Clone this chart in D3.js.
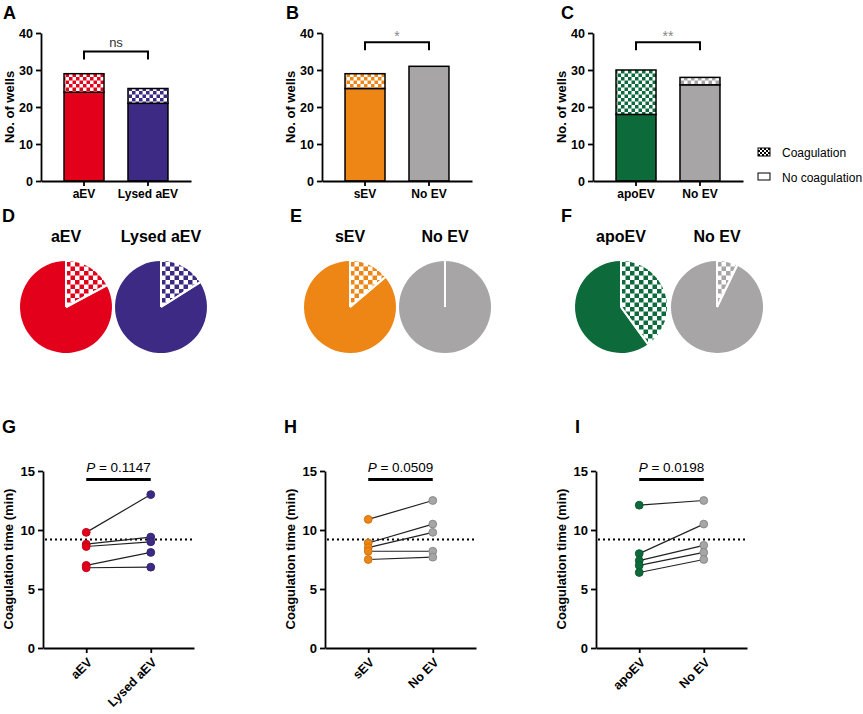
<!DOCTYPE html>
<html><head><meta charset="utf-8">
<script src="https://cdn.jsdelivr.net/npm/d3@7"></script>
<style>body{margin:0;background:#fff} text{font-family:"Liberation Sans",Arial,Helvetica,sans-serif}</style>
</head><body><svg id="c" width="863" height="714"></svg>
<script>
// ---- data ----
const catsA=["aEV","Lysed aEV"], totalA=[29,25], solidA=[24,21];
const catsB=["sEV","No EV"], totalB=[29,31], solidB=[25,31];
const catsC=["apoEV","No EV"], totalC=[30,28], solidC=[18,26];
const sigLabels=["ns","*","**"];
const wellTicks=[0,10,20,30,40];
const colorsA=["#E2001A","#3D2A84"], colorsB=["#EE8616","#A7A5A6"], colorsC=["#0D6B3B","#A7A5A6"];
const timeTicks=[0,5,10,15];
const beforeG=[9.8,8.8,8.6,7.0,6.8], afterG=[13.0,9.4,9.0,8.1,6.85];
const beforeH=[10.9,8.9,8.5,8.2,7.5], afterH=[12.5,10.5,9.8,8.2,7.7];
const beforeI=[12.1,8.0,7.4,7.0,6.4], afterI=[12.5,10.5,8.7,8.1,7.5];
const pValues=["0.1147","0.0509","0.0198"];
const threshold=9.2;
const legendLabels=["Coagulation","No coagulation"];

const svg=d3.select("#c");
const defs=svg.append("defs");
function pattern(color,size){
  const id="p"+color.replace("#","")+size;
  if(!document.getElementById(id)){
    const p=defs.append("pattern").attr("id",id).attr("patternUnits","userSpaceOnUse")
      .attr("width",size).attr("height",size);
    p.append("rect").attr("width",size).attr("height",size).attr("fill","#fff");
    p.append("rect").attr("width",size/2).attr("height",size/2).attr("fill",color);
    p.append("rect").attr("x",size/2).attr("y",size/2).attr("width",size/2).attr("height",size/2).attr("fill",color);
  }
  return "url(#"+id+")";
}
function styleAxis(g,fs){
  g.select(".domain").attr("stroke","#000").attr("stroke-width",1.8);
  g.selectAll(".tick line").attr("stroke","#000").attr("stroke-width",1.8);
  g.selectAll(".tick text").attr("fill","#000").style("font-weight","bold").style("font-size",fs+"px");
}
function letter(t,x,y){svg.append("text").attr("x",x).attr("y",y).text(t).style("font-weight","bold").style("font-size","18px");}

// ---- bar panels ----
function barPanel(ax,cats,total,solid,colors,sig,sigVal){
  const g=svg.append("g").attr("transform",`translate(${ax},0)`);
  const y=d3.scaleLinear().domain([0,40]).range([181,33]);
  const x=d3.scaleBand().domain(cats).range([0,150]).paddingInner(0.375).paddingOuter(0.36);
  cats.forEach((c,i)=>{
    g.append("rect").attr("x",x(c)).attr("width",x.bandwidth()).attr("y",y(solid[i])).attr("height",y(0)-y(solid[i]))
      .attr("fill",colors[i]).attr("stroke","#000").attr("stroke-width",1.5);
    if(total[i]>solid[i]){
      g.append("rect").attr("x",x(c)).attr("width",x.bandwidth()).attr("y",y(total[i])).attr("height",y(solid[i])-y(total[i]))
        .attr("fill",pattern(colors[i],7)).attr("stroke","#000").attr("stroke-width",1.5);
    }
  });
  const ya=g.append("g").call(d3.axisLeft(y).tickValues(wellTicks).tickSize(5).tickSizeOuter(0));
  styleAxis(ya,12.5);
  const xa=g.append("g").attr("transform",`translate(0,181)`).call(d3.axisBottom(x).tickSize(5).tickSizeOuter(0));
  styleAxis(xa,12);
  g.append("text").attr("transform",`translate(-27,107) rotate(-90)`).attr("text-anchor","middle")
    .style("font-weight","bold").style("font-size","13px").text("No. of wells");
  const x1=x(cats[0])+x.bandwidth()/2, x2=x(cats[1])+x.bandwidth()/2, yb=y(sigVal);
  g.append("path").attr("d",`M${x1},${yb+8}V${yb}H${x2}V${yb+8}`).attr("fill","none").attr("stroke","#000").attr("stroke-width",2);
  g.append("text").attr("x",(x1+x2)/2).attr("y",sig==="ns"?yb-5:yb-1).attr("text-anchor","middle")
    .attr("fill",sig==="ns"?"#333":"#888").style("font-size",sig==="ns"?"13px":"14px").text(sig);
}
barPanel(41,catsA,totalA,solidA,colorsA,sigLabels[0],35);
barPanel(322,catsB,totalB,solidB,colorsB,sigLabels[1],37.5);
barPanel(593,catsC,totalC,solidC,colorsC,sigLabels[2],37.5);
letter("A",3,19);letter("B",286,19);letter("C",561,19);

// legend
svg.append("rect").attr("x",758).attr("y",148).attr("width",12).attr("height",8).attr("fill",pattern("#000",4)).attr("stroke","#000").attr("stroke-width",1);
svg.append("rect").attr("x",758).attr("y",173).attr("width",12).attr("height",7).attr("fill","#fff").attr("stroke","#000").attr("stroke-width",1);
legendLabels.forEach((t,i)=>svg.append("text").attr("x",782).attr("y",157+i*24.5).style("font-size","12px").text(t));

// ---- pies ----
const R=46;
const pie=d3.pie().sort(null);
const arc=d3.arc().innerRadius(0).outerRadius(R);
function pies(cx,cats,total,solid,colors){
  cats.forEach((c,i)=>{
    const px=cx[i];
    const g=svg.append("g").attr("transform",`translate(${px},307)`);
    const arcs=pie([total[i]-solid[i],solid[i]]);
    g.selectAll("path").data(arcs).enter().append("path").attr("d",arc)
      .attr("fill",(d,j)=>j===0?pattern(colors[i],9):colors[i]).attr("stroke","none");
    // white separators at slice boundaries
    g.selectAll("line").data(arcs).enter().append("line")
      .attr("x1",0).attr("y1",0)
      .attr("x2",d=>R*Math.sin(d.startAngle)).attr("y2",d=>-R*Math.cos(d.startAngle))
      .attr("stroke","#fff").attr("stroke-width",2);
    g.selectAll("line.e").data(arcs).enter().append("line")
      .attr("x1",0).attr("y1",0)
      .attr("x2",d=>R*Math.sin(d.endAngle)).attr("y2",d=>-R*Math.cos(d.endAngle))
      .attr("stroke","#fff").attr("stroke-width",2);
    svg.append("text").attr("x",px).attr("y",242).attr("text-anchor","middle").style("font-weight","bold").style("font-size","16px").text(c);
  });
}
pies([66,161],catsA,totalA,solidA,colorsA);
pies([350,445],catsB,totalB,solidB,colorsB);
pies([621,717],catsC,totalC,solidC,colorsC);
letter("D",2,222);letter("E",290,222);letter("F",561,222);

// ---- paired dot panels ----
function dotPanel(ax,cats,before,after,colors,pv){
  const g=svg.append("g").attr("transform",`translate(${ax},0)`);
  const y=d3.scaleLinear().domain([0,15]).range([648,471]);
  const x=d3.scalePoint().domain(cats).range([0,151]).padding(0.67);
  g.append("line").attr("x1",2).attr("x2",151).attr("y1",y(threshold)).attr("y2",y(threshold))
    .attr("stroke","#000").attr("stroke-width",2).attr("stroke-dasharray","2,3");
  before.forEach((b,i)=>{
    g.append("line").attr("x1",x(cats[0])).attr("x2",x(cats[1])).attr("y1",y(b)).attr("y2",y(after[i]))
      .attr("stroke","#222").attr("stroke-width",1.2);
  });
  [before,after].forEach((arr,k)=>{
    g.selectAll(null).data(arr).enter().append("circle").attr("cx",x(cats[k])).attr("cy",d=>y(d)).attr("r",3.9)
      .attr("fill",colors[k]).attr("stroke",colors[k]==="#A7A5A6"?"#8a8a8a":d3.color(colors[k]).darker(0.4)).attr("stroke-width",1);
  });
  const ya=g.append("g").call(d3.axisLeft(y).tickValues(timeTicks).tickSize(5).tickSizeOuter(0));
  styleAxis(ya,13);
  const xa=g.append("g").attr("transform","translate(0,648)").call(d3.axisBottom(x).tickSize(5).tickSizeOuter(0));
  styleAxis(xa,12.5);
  xa.selectAll(".tick text").attr("x",0).attr("y",0).attr("dy","0.35em").attr("text-anchor","end")
    .attr("transform","translate(3,12) rotate(-45)");
  g.append("text").attr("transform",`translate(-30,559) rotate(-90)`).attr("text-anchor","middle")
    .style("font-weight","bold").style("font-size","13px").text("Coagulation time (min)");
  g.append("line").attr("x1",x(cats[0])).attr("x2",x(cats[1])).attr("y1",479.5).attr("y2",479.5).attr("stroke","#000").attr("stroke-width",3);
  const t=g.append("text").attr("x",(x(cats[0])+x(cats[1]))/2).attr("y",472).attr("text-anchor","middle").style("font-size","13.5px");
  t.append("tspan").style("font-style","italic").text("P");
  t.append("tspan").text(" = "+pv);
}
dotPanel(43,catsA,beforeG,afterG,colorsA,pValues[0]);
dotPanel(325,catsB,beforeH,afterH,colorsB,pValues[1]);
dotPanel(596,catsC,beforeI,afterI,colorsC,pValues[2]);
letter("G",2,433);letter("H",284,433);letter("I",575,433);
</script></body></html>
